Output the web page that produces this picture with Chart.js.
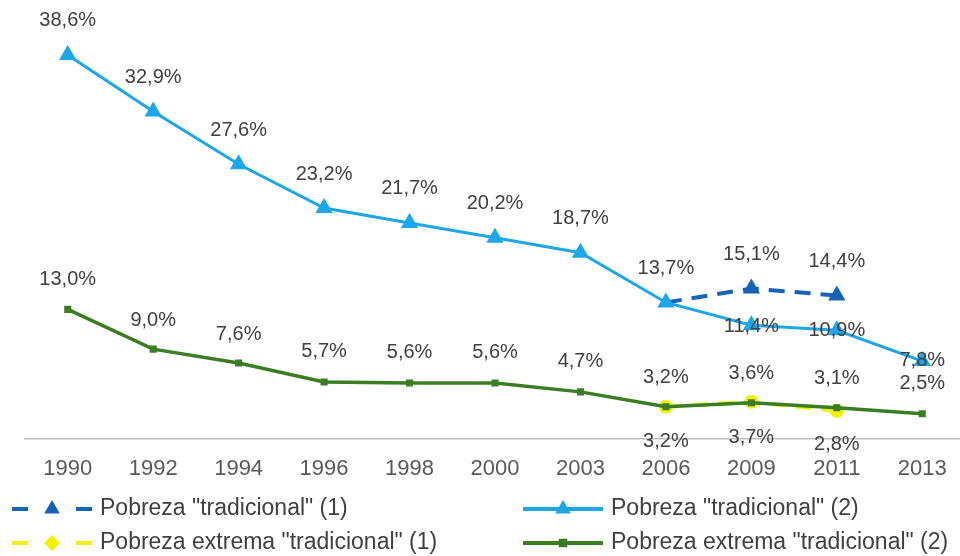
<!DOCTYPE html>
<html lang="es">
  <head>
    <meta charset="UTF-8" />
    <title>Pobreza tradicional</title>
    <style>
      html, body { margin: 0; padding: 0; background: #fff; overflow: hidden; }
      #wrap { position: relative; width: 975px; height: 556px; }
    </style>
  </head>
  <body>
    <div id="wrap">
      <canvas id="myChart"></canvas>
    </div>

    <script src="https://cdn.jsdelivr.net/npm/chart.js"></script>
    <script>
      const years = ["1990", "1992", "1994", "1996", "1998", "2000", "2003", "2006", "2009", "2011", "2013"];

      const pobreza1 = [null, null, null, null, null, null, null, 13.7, 15.1, 14.4, null];
      const pobreza2 = [38.6, 32.9, 27.6, 23.2, 21.7, 20.2, 18.7, 13.7, 11.4, 10.9, 7.8];
      const extrema1 = [null, null, null, null, null, null, null, 3.2, 3.7, 2.8, null];
      const extrema2 = [13.0, 9.0, 7.6, 5.7, 5.6, 5.6, 4.7, 3.2, 3.6, 3.1, 2.5];

      const seriesNames = [
        'Pobreza "tradicional" (1)',
        'Pobreza "tradicional" (2)',
        'Pobreza extrema "tradicional" (1)',
        'Pobreza extrema "tradicional" (2)',
      ];

      const FONT = '"Liberation Sans", Arial, sans-serif';

      function fmt(v) {
        return v.toFixed(1).replace(".", ",") + "%";
      }

      // draw a marker shape
      function marker(ctx, style, x, y, r, color) {
        ctx.save();
        ctx.fillStyle = color;
        ctx.beginPath();
        if (style === "triangle") {
          ctx.moveTo(x, y - r);
          ctx.lineTo(x + r * 0.866, y + r * 0.5);
          ctx.lineTo(x - r * 0.866, y + r * 0.5);
          ctx.closePath();
        } else if (style === "rect") {
          const s = r / Math.SQRT2;
          ctx.rect(x - s, y - s, 2 * s, 2 * s);
        } else if (style === "rectRot") {
          ctx.moveTo(x, y - r);
          ctx.lineTo(x + r, y);
          ctx.lineTo(x, y + r);
          ctx.lineTo(x - r, y);
          ctx.closePath();
        } else {
          ctx.arc(x, y, r, 0, Math.PI * 2);
        }
        ctx.fill();
        ctx.restore();
      }

      // value labels next to the points
      const labelPlugin = {
        id: "valueLabels",
        afterDatasetsDraw(chart) {
          const ctx = chart.ctx;
          ctx.save();
          ctx.font = "20px " + FONT;
          ctx.fillStyle = "#404040";
          ctx.textAlign = "center";
          ctx.textBaseline = "middle";
          chart.data.datasets.forEach((ds, di) => {
            const meta = chart.getDatasetMeta(di);
            ds.data.forEach((v, i) => {
              const dy = ds.labelOffset[i];
              if (v === null || dy === null) return;
              const pt = meta.data[i];
              ctx.fillText(fmt(v), pt.x, pt.y + dy);
            });
          });
          ctx.restore();
        },
      };

      // two column legend under the axis
      const legendPlugin = {
        id: "twoColLegend",
        afterDraw(chart) {
          const ctx = chart.ctx;
          const spots = [
            { x: 12, y: 509 },
            { x: 523, y: 509 },
            { x: 12, y: 543 },
            { x: 523, y: 543 },
          ];
          chart.data.datasets.forEach((ds, di) => {
            const p = spots[di];
            ctx.save();
            ctx.strokeStyle = ds.borderColor;
            ctx.lineWidth = ds.legendLineWidth;
            ctx.beginPath();
            if (ds.borderDash.length) {
              ctx.moveTo(p.x, p.y);
              ctx.lineTo(p.x + 16, p.y);
              ctx.moveTo(p.x + 64, p.y);
              ctx.lineTo(p.x + 80, p.y);
            } else {
              ctx.moveTo(p.x, p.y);
              ctx.lineTo(p.x + 80, p.y);
            }
            ctx.stroke();
            ctx.restore();
            marker(ctx, ds.legendStyle, p.x + 40, p.y, ds.legendRadius, ds.pointBackgroundColor);
            ctx.save();
            ctx.font = "23px " + FONT;
            ctx.fillStyle = "#404040";
            ctx.textBaseline = "middle";
            ctx.fillText(seriesNames[di], p.x + 88, p.y);
            ctx.restore();
          });
        },
      };

      new Chart(document.getElementById("myChart"), {
        type: "line",
        data: {
          labels: years,
          datasets: [
            {
              label: seriesNames[0],
              data: pobreza1,
              borderColor: "#1763BA",
              pointBackgroundColor: "#1763BA",
              pointBorderWidth: 0,
              borderWidth: 4,
              borderDash: [16, 10],
              pointStyle: "triangle",
              pointRadius: [0, 0, 0, 0, 0, 0, 0, 0, 10, 10, 0],
              legendStyle: "triangle",
              legendRadius: 9,
              legendLineWidth: 4,
              labelOffset: [null, null, null, null, null, null, null, null, -34, -34, null],
              order: 1,
            },
            {
              label: seriesNames[1],
              data: pobreza2,
              borderColor: "#1DA6E8",
              pointBackgroundColor: "#1DA6E8",
              pointBorderWidth: 0,
              borderWidth: 3,
              borderDash: [],
              pointStyle: "triangle",
              pointRadius: 10,
              legendStyle: "triangle",
              legendRadius: 9,
              legendLineWidth: 4,
              labelOffset: [-34, -34, -34, -34, -34, -34, -34, -34, 1, 0, -1],
              order: 0,
            },
            {
              label: seriesNames[2],
              data: extrema1,
              borderColor: "#F2F200",
              pointBackgroundColor: "#F2F200",
              pointBorderWidth: 0,
              borderWidth: 4,
              borderDash: [16, 10],
              pointStyle: "circle",
              pointRadius: 7,
              legendStyle: "rectRot",
              legendRadius: 8,
              legendLineWidth: 4,
              labelOffset: [null, null, null, null, null, null, null, 35, 36, 34, null],
              order: 3,
            },
            {
              label: seriesNames[3],
              data: extrema2,
              borderColor: "#3A7D22",
              pointBackgroundColor: "#3A7D22",
              pointBorderWidth: 0,
              borderWidth: 3.5,
              borderDash: [],
              pointStyle: "rect",
              pointRadius: 5,
              legendStyle: "rect",
              legendRadius: 6,
              legendLineWidth: 4,
              labelOffset: [-30, -29, -29, -30, -30, -30, -30, -29, -29, -29, -30],
              order: 2,
            },
          ],
        },
        options: {
          responsive: true,
          maintainAspectRatio: false,
          animation: false,
          spanGaps: false,
          layout: {
            padding: { top: 41, left: 25, right: 2, bottom: 57 },
          },
          plugins: {
            legend: { display: false },
            tooltip: { enabled: false },
          },
          scales: {
            x: {
              offset: true,
              grid: { display: false, drawTicks: false },
              border: { display: true, color: "#BFBFBF", width: 1.5 },
              ticks: {
                padding: 17,
                color: "#595959",
                font: { family: FONT, size: 22 },
              },
            },
            y: {
              display: false,
              min: 0,
              max: 40,
            },
          },
        },
        plugins: [labelPlugin, legendPlugin],
      });
    </script>
  </body>
</html>
